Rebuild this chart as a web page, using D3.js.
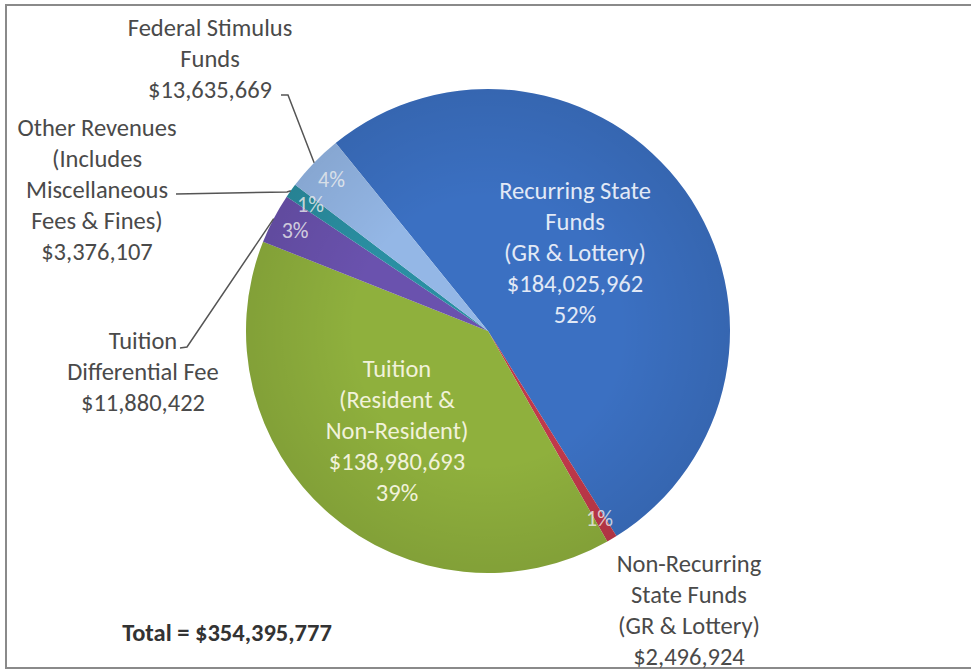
<!DOCTYPE html>
<html>
<head>
<meta charset="utf-8">
<script src="https://cdn.jsdelivr.net/npm/d3@7"></script>
<style>
  body { margin: 0; background: #fff; }
  text { font-family: Carlito, Calibri, Lato, sans-serif; }
</style>
</head>
<body>
<div id="chart"></div>
<script>
// data
var categories = ["Recurring State Funds", "Non-Recurring State Funds", "Tuition",
                  "Tuition Differential Fee", "Other Revenues", "Federal Stimulus Funds"];
var values = [184025962, 2496924, 138980693, 11880422, 3376107, 13635669];
var labelLines = [
  ["Recurring State", "Funds", "(GR & Lottery)"],
  ["Non-Recurring", "State Funds", "(GR & Lottery)"],
  ["Tuition", "(Resident &", "Non-Resident)"],
  ["Tuition", "Differential Fee"],
  ["Other Revenues", "(Includes", "Miscellaneous", "Fees & Fines)"],
  ["Federal Stimulus", "Funds"]
];
var colors = ["#3b70c2", "#c0394a", "#8fb03d", "#6a52ae", "#2a8fa2", "#94b7e6"];
var totalLabel = "Total = $354,395,777";

// layout
var width = 971, height = 672;
var cx = 488, cy = 331, R = 242;
var lineH = 31;
var fontSize = 24.5;
var firstAngle = -39 * Math.PI / 180;

// label blocks inside the two big slices (centre of block)
var inside = {0: [575, 252], 2: [397, 430]};
// outside labels: centre x, y of first line, leader [start, elbow] (null = no leader)
var outside = {
  1: {x: 689, y: 563, leader: null},
  3: {x: 143, y: 340, leader: [[180, 348], [187, 347]]},
  4: {x: 97,  y: 127, leader: [[176, 194], [287, 192]]},
  5: {x: 210, y: 27,  leader: [[281, 95], [288, 95]]}
};

var svg = d3.select("#chart")
  .append("svg")
  .attr("width", width)
  .attr("height", height);

// shading for the pie
var grad = svg.append("defs").append("radialGradient")
  .attr("id", "shade")
  .attr("gradientUnits", "userSpaceOnUse")
  .attr("cx", cx).attr("cy", cy).attr("r", R);
grad.append("stop").attr("offset", "0.55").attr("stop-color", "#000").attr("stop-opacity", 0);
grad.append("stop").attr("offset", "1").attr("stop-color", "#000").attr("stop-opacity", 0.09);

// frame
svg.append("rect")
  .attr("x", 6).attr("y", 5)
  .attr("width", width + 20).attr("height", 663)
  .attr("fill", "none")
  .attr("stroke", "#8a8a8a")
  .attr("stroke-width", 2);

var total = d3.sum(values);
var fmt = d3.format("$,");
var pct = function(v) { return Math.round(v / total * 100) + "%"; };

var pie = d3.pie().sort(null).value(function(d) { return d; })
  .startAngle(firstAngle).endAngle(firstAngle + 2 * Math.PI);
var arcs = pie(values);

var arc = d3.arc().innerRadius(0).outerRadius(R);
var edgeArc = d3.arc().innerRadius(R).outerRadius(R);
var pctArc = d3.arc().innerRadius(R * 0.9).outerRadius(R * 0.9);

var g = svg.append("g").attr("transform", "translate(" + cx + "," + cy + ")");

g.selectAll("path.slice")
  .data(arcs)
  .enter()
  .append("path")
  .attr("class", "slice")
  .attr("d", arc)
  .attr("fill", function(d, i) { return colors[i]; });

svg.append("circle")
  .attr("cx", cx).attr("cy", cy).attr("r", R)
  .attr("fill", "url(#shade)");

// inner labels for the two big slices
Object.keys(inside).forEach(function(key) {
  var i = +key, c = inside[key];
  var lines = labelLines[i].concat([fmt(values[i]), pct(values[i])]);
  var y0 = c[1] - (lines.length - 1) * lineH / 2;
  svg.append("text")
    .attr("text-anchor", "middle")
    .attr("fill", i === 0 ? "#e2e9f6" : "#f1f2da")
    .attr("font-size", fontSize)
    .selectAll("tspan")
    .data(lines)
    .enter()
    .append("tspan")
    .attr("x", c[0])
    .attr("y", function(d, k) { return y0 + k * lineH; })
    .attr("dy", "0.35em")
    .text(function(d) { return d; });
});

// percentage labels for the small slices
[1, 3, 4, 5].forEach(function(i) {
  var c = pctArc.centroid(arcs[i]);
  g.append("text")
    .attr("x", c[0])
    .attr("y", c[1])
    .attr("dy", "0.35em")
    .attr("text-anchor", "middle")
    .attr("fill", "#ffffff")
    .attr("fill-opacity", 0.8)
    .attr("font-size", 22)
    .text(pct(values[i]));
});

// outside labels + leader lines
Object.keys(outside).forEach(function(key) {
  var i = +key, o = outside[key];
  var lines = labelLines[i].concat([fmt(values[i])]);
  svg.append("text")
    .attr("text-anchor", "middle")
    .attr("fill", "#4a4a4a")
    .attr("font-size", fontSize)
    .selectAll("tspan")
    .data(lines)
    .enter()
    .append("tspan")
    .attr("x", o.x)
    .attr("y", function(d, k) { return o.y + k * lineH; })
    .attr("dy", "0.35em")
    .text(function(d) { return d; });

  if (o.leader) {
    var e = edgeArc.centroid(arcs[i]);
    var pts = o.leader.concat([[cx + e[0], cy + e[1]]]);
    svg.append("path")
      .attr("d", d3.line()(pts))
      .attr("fill", "none")
      .attr("stroke", "#555")
      .attr("stroke-width", 1.5);
  }
});

svg.append("text")
  .attr("x", 227)
  .attr("y", 632)
  .attr("dy", "0.35em")
  .attr("text-anchor", "middle")
  .attr("fill", "#333")
  .attr("font-size", fontSize)
  .attr("font-weight", "bold")
  .text(totalLabel);
</script>
</body>
</html>
